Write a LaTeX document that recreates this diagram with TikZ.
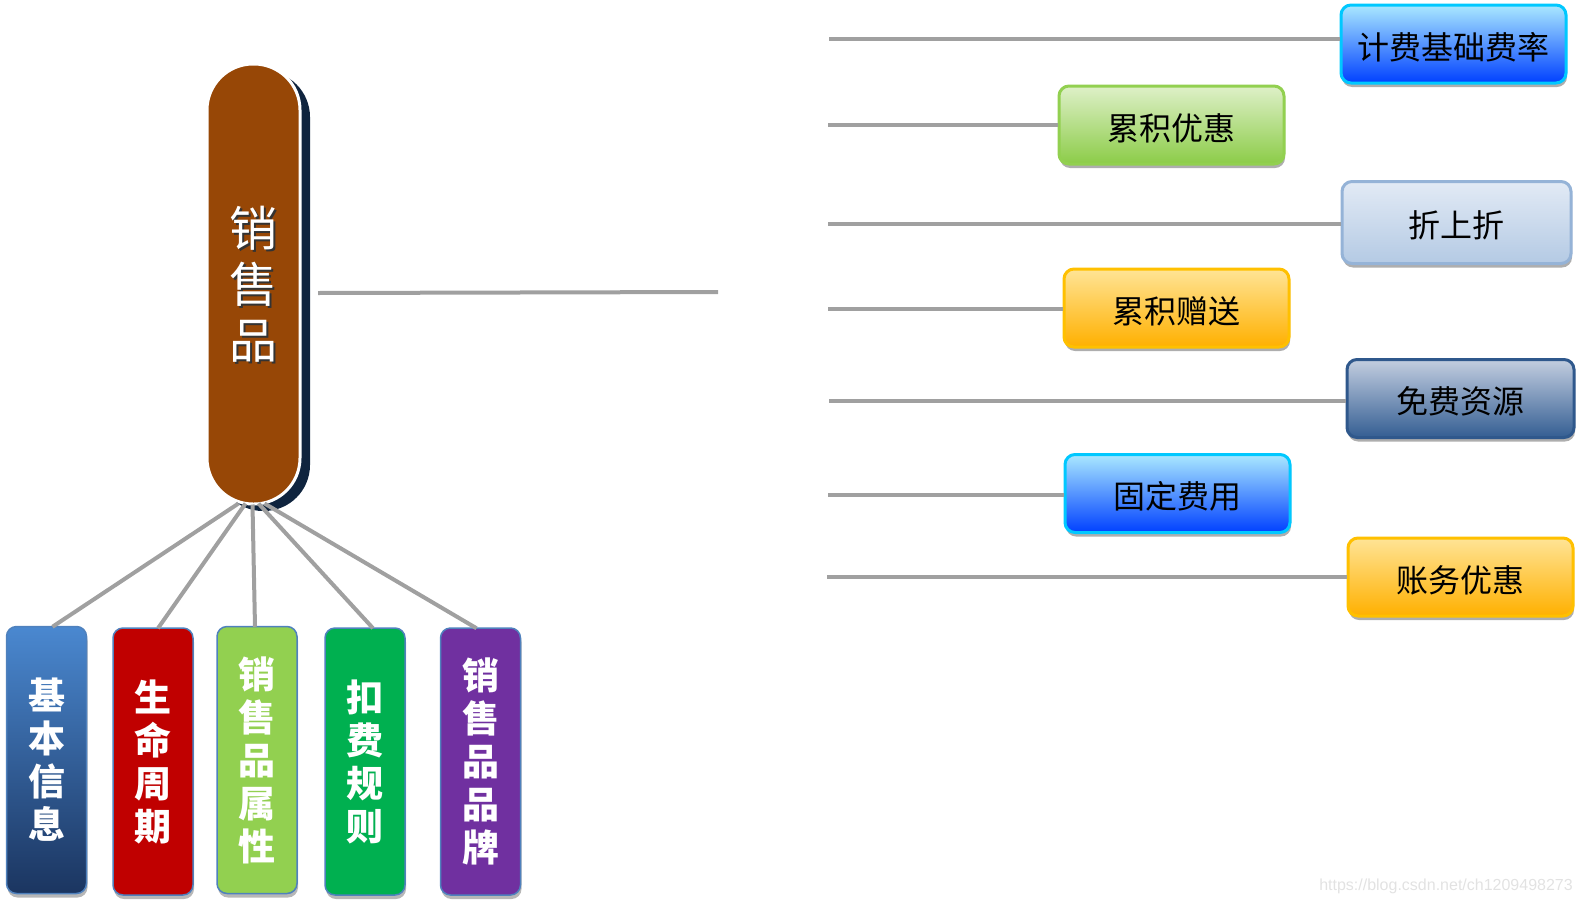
\documentclass[tikz,border=0pt]{standalone}
\usepackage{fontspec}
\setmainfont{Noto Sans CJK SC}
\newfontfamily\wmfont{Liberation Sans}
\usetikzlibrary{shadows,calc}
\definecolor{lineg}{HTML}{A0A0A0}
\definecolor{pillbrown}{HTML}{974706}
\definecolor{pillnavy}{HTML}{0F243E}
\definecolor{bbord}{HTML}{4F81BD}
\definecolor{wmgray}{HTML}{E2E2E2}
\tikzset{
  conn/.style={draw=lineg, line width=4pt},
  rbox/.style n args={4}{draw=#1, top color=#2, middle color=#3, bottom color=#4, rounded corners=10pt,
     line width=3pt, minimum width=225pt, minimum height=78pt, text=black,
     font=\fontsize{32}{32}\selectfont, text height=30pt, text depth=0pt,
     drop shadow={shadow xshift=1pt, shadow yshift=-4pt, opacity=.45, fill=black!70}},
  bbox/.style={draw=bbord, line width=1.5pt, rounded corners=10pt, minimum width=80pt,
     minimum height=267pt, text=white, align=center,
     font=\bfseries\fontsize{37}{43}\selectfont,
     drop shadow={shadow xshift=1pt, shadow yshift=-4pt, opacity=.4, fill=black!70}},
}
\begin{document}
\begin{tikzpicture}[x=1pt,y=-1pt]
\useasboundingbox (0,0) rectangle (1581,905);

% main pill
\node[draw=white, line width=3pt, fill=pillbrown, rounded corners=46pt,
      minimum width=93pt, minimum height=440pt,
      general shadow={shadow xshift=10pt, shadow yshift=-7pt, fill=pillnavy}]
      (pill) at (253.5,284) {};
\node[text=black!80, align=center, font=\fontsize{48}{56}\selectfont] (pilltxs) at (255.5,286) {销\\售\\品};
\node[text=white, align=center, font=\fontsize{48}{56}\selectfont] (pilltxt) at (253,284) {销\\售\\品};

% horizontal line from pill
\coordinate (h1) at (318,293);
\coordinate (h2) at (718,292);
\draw[conn] (h1) -- (h2);

% bottom boxes
\node[bbox, top color={rgb,255:red,74;green,136;blue,208}, bottom color={rgb,255:red,27;green,53;blue,96}] (b1) at (46.5,760) {基\\本\\信\\息};
\node[bbox, fill={rgb,255:red,192;green,0;blue,0}] (b2) at (153,761.5) {生\\命\\周\\期};
\node[bbox, fill={rgb,255:red,146;green,208;blue,80}] (b3) at (257,760) {销\\售\\品\\属\\性};
\node[bbox, fill={rgb,255:red,0;green,176;blue,80}] (b4) at (365,761.5) {扣\\费\\规\\则};
\node[bbox, fill={rgb,255:red,112;green,48;blue,160}] (b5) at (480.5,761.5) {销\\售\\品\\品\\牌};

% fan connectors
\coordinate (f1) at ([xshift=-15pt,yshift=2pt]pill.south);
\coordinate (f2) at ([xshift=-8pt,yshift=2pt]pill.south);
\coordinate (f3) at ([xshift=-1pt,yshift=1pt]pill.south);
\coordinate (f4) at ([xshift=5pt,yshift=2pt]pill.south);
\coordinate (f5) at ([xshift=11pt,yshift=2pt]pill.south);
\draw[conn] (f1) -- ([xshift=6pt,yshift=-1pt]b1.north);
\draw[conn] (f2) -- ([xshift=5pt,yshift=-1pt]b2.north);
\draw[conn] (f3) -- ([xshift=-2pt,yshift=-1pt]b3.north);
\draw[conn] (f4) -- ([xshift=8pt,yshift=-1pt]b4.north);
\draw[conn] (f5) -- ([xshift=-4pt,yshift=-1pt]b5.north);

% right boxes
\node[rbox={{rgb,255:red,0;green,200;blue,255}}{{rgb,255:red,170;green,232;blue,255}}{{rgb,255:red,0;green,160;blue,255}}{{rgb,255:red,0;green,64;blue,255}}] (r1) at (1453.5,44) {计费基础费率};
\node[rbox={{rgb,255:red,146;green,208;blue,80}}{{rgb,255:red,222;green,240;blue,200}}{{rgb,255:red,148;green,209;blue,82}}{{rgb,255:red,140;green,204;blue,72}}] (r2) at (1171.5,125) {累积优惠};
\node[rbox={{rgb,255:red,149;green,179;blue,215}}{{rgb,255:red,226;green,234;blue,245}}{{rgb,255:red,188;green,208;blue,232}}{{rgb,255:red,180;green,202;blue,228}}, minimum width=229pt, minimum height=82pt] (r3) at (1456.5,222.5) {折上折};
\node[rbox={{rgb,255:red,255;green,192;blue,0}}{{rgb,255:red,255;green,228;blue,150}}{{rgb,255:red,255;green,188;blue,0}}{{rgb,255:red,255;green,176;blue,0}}] (r4) at (1176.5,308) {累积赠送};
\node[rbox={{rgb,255:red,47;green,88;blue,140}}{{rgb,255:red,195;green,206;blue,224}}{{rgb,255:red,70;green,108;blue,158}}{{rgb,255:red,52;green,94;blue,146}}, minimum width=227pt] (r5) at (1460.5,398.5) {免费资源};
\node[rbox={{rgb,255:red,0;green,200;blue,255}}{{rgb,255:red,170;green,232;blue,255}}{{rgb,255:red,0;green,160;blue,255}}{{rgb,255:red,0;green,64;blue,255}}] (r6) at (1177.5,493.5) {固定费用};
\node[rbox={{rgb,255:red,255;green,192;blue,0}}{{rgb,255:red,255;green,228;blue,150}}{{rgb,255:red,255;green,188;blue,0}}{{rgb,255:red,255;green,176;blue,0}}] (r7) at (1460.5,577) {账务优惠};

% right connectors
\coordinate (s1) at (829,39);
\coordinate (s2) at (828,125);
\coordinate (s3) at (828,224);
\coordinate (s4) at (828,309);
\coordinate (s5) at (829,401);
\coordinate (s6) at (828,495);
\coordinate (s7) at (827,577);
\draw[conn] (s1) -- (s1 -| r1.west);
\draw[conn] (s2) -- (s2 -| r2.west);
\draw[conn] (s3) -- (s3 -| r3.west);
\draw[conn] (s4) -- (s4 -| r4.west);
\draw[conn] (s5) -- (s5 -| r5.west);
\draw[conn] (s6) -- (s6 -| r6.west);
\draw[conn] (s7) -- (s7 -| r7.west);

% watermark
\node[text=wmgray, font=\wmfont\fontsize{16}{16}\selectfont] (wm) at (1446,886) {https://blog.csdn.net/ch1209498273};
\end{tikzpicture}
\end{document}
